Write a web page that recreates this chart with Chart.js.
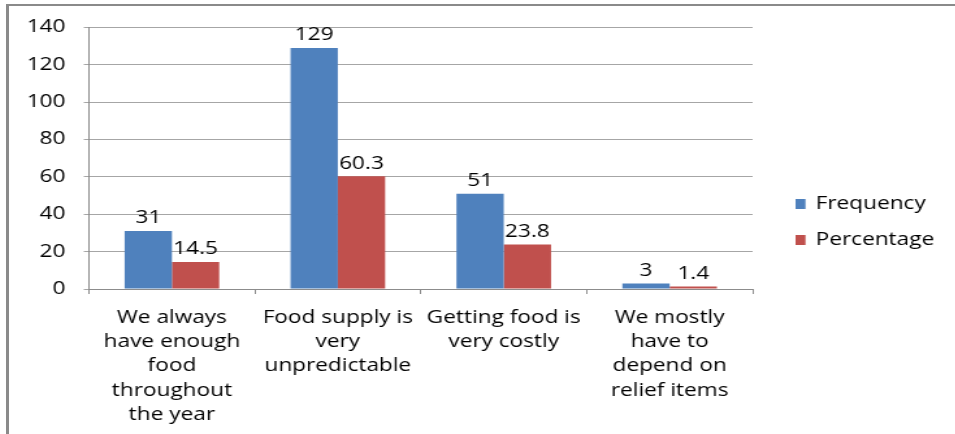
<!DOCTYPE html>
<html>
<head>
<meta charset="utf-8">
<script src="https://cdn.jsdelivr.net/npm/chart.js@4.4.1/dist/chart.umd.min.js"></script>
<style>
  html, body { margin: 0; padding: 0; background: #fff; }
  body { width: 955px; height: 434px; overflow: hidden; position: relative; }
  #frame {
    position: absolute; left: 6px; top: 4px; width: 949px; height: 430px;
    border-top: 2px solid #8a8a8a; border-left: 3px solid #8a8a8a;
    box-sizing: border-box; overflow: hidden;
  }
  #stretch {
    position: absolute; left: 0; top: -3px; width: 730px; height: 431px;
    transform: scaleX(1.3); transform-origin: 0 0;
  }
</style>
</head>
<body>
<div id="frame">
  <div id="stretch"><canvas id="myChart" width="730" height="431"></canvas></div>
</div>
<script>
const categories = [
  ['We always', 'have enough', 'food', 'throughout', 'the year'],
  ['Food supply is', 'very', 'unpredictable'],
  ['Getting food is', 'very costly'],
  ['We mostly', 'have to', 'depend on', 'relief items']
];
const frequency = [31, 129, 51, 3];
const percentage = [14.5, 60.3, 23.8, 1.4];
const seriesNames = ['Frequency', 'Percentage'];
const yTicks = [0, 20, 40, 60, 80, 100, 120, 140];

const FONT = '"Open Sans", sans-serif';
const FS = 17.4;

// value labels above every bar
const valueLabels = {
  id: 'valueLabels',
  afterDatasetsDraw(chart) {
    const ctx = chart.ctx;
    ctx.save();
    ctx.font = FS + 'px ' + FONT;
    ctx.fillStyle = '#000';
    ctx.textAlign = 'center';
    ctx.textBaseline = 'bottom';
    chart.data.datasets.forEach((ds, i) => {
      chart.getDatasetMeta(i).data.forEach((bar, j) => {
        ctx.fillText(String(ds.data[j]), bar.x, bar.y - 4);
      });
    });
    ctx.restore();
  }
};

// legend on the right, like the original
const sideLegend = {
  id: 'sideLegend',
  afterDraw(chart) {
    const ctx = chart.ctx;
    const x = chart.chartArea.right + 33;
    const ys = [201, 237];
    ctx.save();
    ctx.font = FS + 'px ' + FONT;
    ctx.textBaseline = 'middle';
    ctx.textAlign = 'left';
    chart.data.datasets.forEach((ds, i) => {
      ctx.fillStyle = ds.backgroundColor;
      ctx.fillRect(x, ys[i] - 5, 7.7, 10);
      ctx.fillStyle = '#000';
      ctx.fillText(ds.label, x + 15.5, ys[i]);
    });
    ctx.restore();
  }
};

const ctx = document.getElementById('myChart');
new Chart(ctx, {
  type: 'bar',
  data: {
    labels: categories,
    datasets: [{
      label: seriesNames[0],
      data: frequency,
      backgroundColor: '#4F81BD',
      categoryPercentage: 0.57,
      barPercentage: 1
    }, {
      label: seriesNames[1],
      data: percentage,
      backgroundColor: '#C0504D',
      categoryPercentage: 0.57,
      barPercentage: 1
    }]
  },
  options: {
    responsive: false,
    animation: false,
    events: [],
    layout: { padding: { left: 11, right: 158, top: 12, bottom: 0 } },
    plugins: {
      legend: { display: false },
      tooltip: { enabled: false }
    },
    scales: {
      x: {
        grid: {
          offset: true,
          drawOnChartArea: false,
          tickLength: 5,
          color: '#8c8c8c'
        },
        border: { color: '#8c8c8c' },
        ticks: {
          autoSkip: false,
          maxRotation: 0,
          minRotation: 0,
          padding: 12,
          color: '#000',
          font: { family: FONT, size: FS, lineHeight: 1.39 }
        },
        afterFit(s) { s.height = 145; }
      },
      y: {
        min: 0,
        max: 140,
        afterBuildTicks(s) { s.ticks = yTicks.map(v => ({ value: v })); },
        grid: { color: '#a6a6a6', tickLength: 4 },
        border: { color: '#8c8c8c' },
        ticks: {
          padding: 14,
          color: '#000',
          font: { family: FONT, size: FS }
        },
        afterFit(s) { s.width = 50.5; }
      }
    }
  },
  plugins: [valueLabels, sideLegend]
});
</script>
</body>
</html>
